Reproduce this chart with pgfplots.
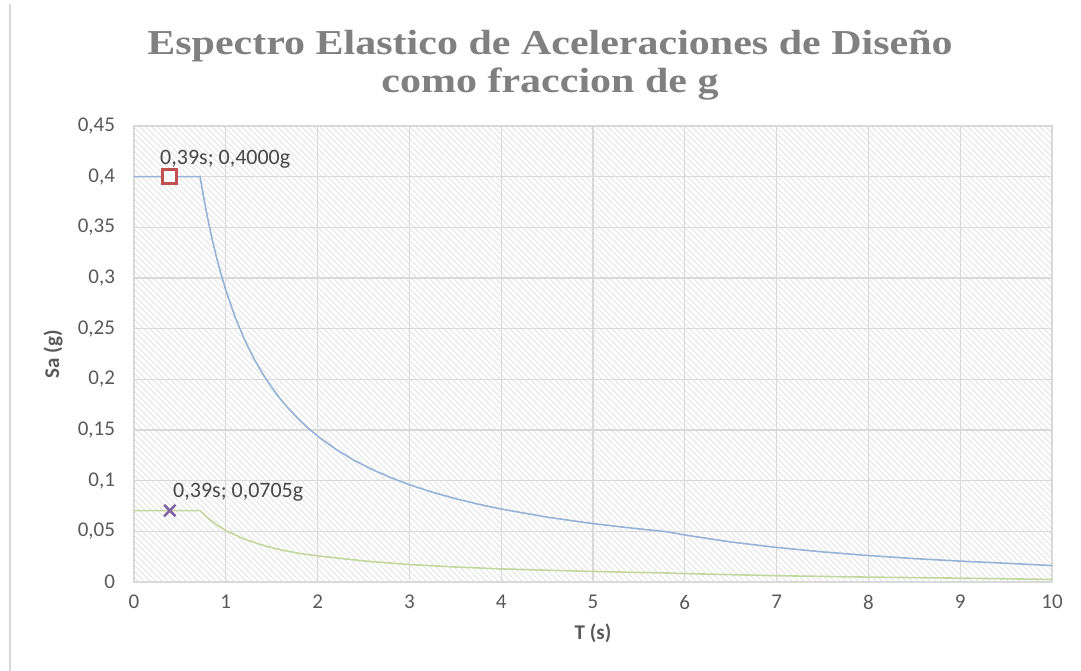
\documentclass[border=0pt]{standalone}
\usepackage{fontspec}
\setmainfont{Carlito}
\newfontfamily\titlefont[FakeStretch=1.2]{Liberation Serif}
\usepackage{pgfplots}
\pgfplotsset{compat=1.18}
\usetikzlibrary{patterns}
\definecolor{txt}{HTML}{595959}
\definecolor{ttl}{HTML}{808080}
\definecolor{gridc}{HTML}{D9D9D9}
\definecolor{sblue}{HTML}{95B3D7}
\definecolor{sgreen}{HTML}{C3D69B}
\definecolor{mred}{HTML}{C0504D}
\definecolor{mpurple}{HTML}{8064A2}
\begin{document}
\begin{tikzpicture}
\begin{axis}[
  name=ax,
  scale only axis,
  width=459pt, height=228pt,
  xmin=0, xmax=10, ymin=0, ymax=0.45,
  xtick={0,1,...,10},
  ytick={0,0.05,0.1,0.15,0.2,0.25,0.3,0.35,0.4,0.45},
  y tick label style={/pgf/number format/use comma, /pgf/number format/fixed, /pgf/number format/precision=2},
  /pgf/number format/assume math mode=true,
  tick label style={font=\fontsize{10.5}{12}\selectfont, text=txt},
  yticklabel style={xshift=-6pt},
  xticklabel style={yshift=-3pt},
  major tick length=0pt,
  grid=major,
  major grid style={gridc, line width=0.6pt},
  axis line style={gridc, line width=0.6pt},
  axis background/.style={pattern=north west lines, pattern color=gray!22},
  xlabel={\textbf{T (s)}},
  ylabel={\textbf{Sa (g)}},
  every axis x label/.style={at={(axis description cs:0.5,-0.112)}, anchor=center, font=\fontsize{10.5}{12}\selectfont, text=txt},
  every axis y label/.style={at={(axis description cs:-0.088,0.5)}, anchor=center, rotate=90, font=\fontsize{10.5}{12}\selectfont, text=txt},
  clip=false,
]
\addplot[sblue, line width=0.8pt] coordinates {
(0,0.4) (0.72,0.4) (0.75,0.384) (0.8,0.36) (0.85,0.3388) (0.9,0.32) (0.95,0.3032)
(1.0,0.288) (1.1,0.2618) (1.2,0.24) (1.3,0.2215) (1.4,0.2057) (1.5,0.192) (1.6,0.18)
(1.7,0.1694) (1.8,0.16) (1.9,0.1516) (2.0,0.144) (2.2,0.1309) (2.4,0.12) (2.6,0.1108)
(2.8,0.1029) (3.0,0.096) (3.25,0.0886) (3.5,0.0823) (3.75,0.0768) (4.0,0.072)
(4.5,0.064) (5.0,0.0576) (5.5,0.0524) (5.8,0.0497) (6.0,0.0464) (6.5,0.0395)
(7.0,0.0341) (7.5,0.0297) (8.0,0.0261) (8.5,0.0231) (9.0,0.0206) (9.5,0.0185) (10,0.0162)
};
\addplot[sgreen, line width=0.8pt] coordinates {
(0,0.0705) (0.72,0.0705) (0.8,0.0635) (0.9,0.0564) (1.0,0.0508) (1.2,0.0423)
(1.4,0.0363) (1.6,0.0317) (1.8,0.0282) (2.0,0.0258) (2.5,0.0208) (3,0.0172)
(3.5,0.0148) (4,0.0129) (5,0.0104) (5.8,0.0089) (6,0.0083) (7,0.0062) (8,0.0048)
(9,0.0038) (10,0.0025)
};
\addplot[only marks, mark=square*, mark size=3.5pt, mred, line width=1.5pt,
  mark options={fill=white}] coordinates {(0.39,0.4)};
\addplot[only marks, mark=x, mark size=4pt, mpurple, line width=1.3pt] coordinates {(0.39,0.0705)};
\node[anchor=west, font=\fontsize{11}{13}\selectfont, text=black!72, xshift=-5pt, yshift=8.5pt, inner sep=0pt]
  at (axis cs:0.39,0.4) {0,39s; 0,4000g};
\node[anchor=west, font=\fontsize{11}{13}\selectfont, text=black!72, xshift=1.5pt, yshift=9pt, inner sep=0pt]
  at (axis cs:0.39,0.0705) {0,39s; 0,0705g};
\end{axis}
\path[use as bounding box] ([xshift=-67pt,yshift=-44.5pt]ax.south west) rectangle ([xshift=14.5pt,yshift=63pt]ax.north east);
\draw[gridc, line width=0.6pt] ([xshift=-62pt,yshift=-44.5pt]ax.south west) -- ([xshift=-62pt,yshift=61pt]ax.north west);
\node[font=\titlefont\bfseries\fontsize{17.5}{20}\selectfont, text=ttl, align=center, inner sep=0pt, anchor=north]
  at ([xshift=-21.5pt,yshift=48pt]ax.north) {Espectro Elastico de Aceleraciones de Diseño\\[-1pt]como fraccion de g};
\end{tikzpicture}
\end{document}
